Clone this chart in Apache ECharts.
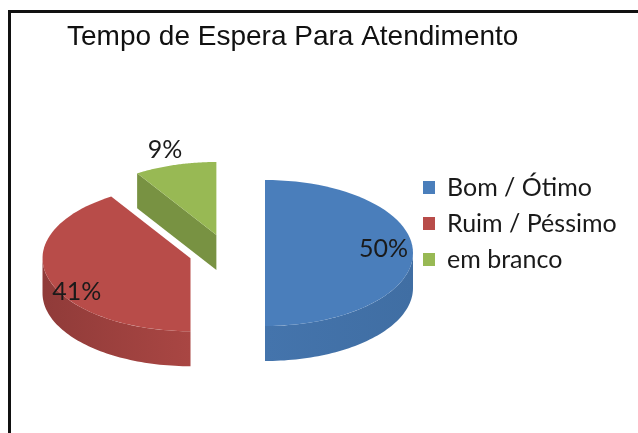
<!DOCTYPE html>
<html>
<head>
<meta charset="utf-8">
<script src="https://cdn.jsdelivr.net/npm/echarts@6/dist/echarts.min.js"></script>
<style>
  html, body { margin: 0; padding: 0; background: #fff; }
  #chart { position: absolute; left: 0; top: 0; width: 638px; height: 433px; }
  #frame { position: absolute; left: 8px; top: 10px; width: 640px; height: 440px;
           border-left: 3px solid #111; border-top: 3px solid #111; }
</style>
</head>
<body>
<div id="chart"></div>
<div id="frame"></div>
<script>
const titleText = "Tempo de Espera Para Atendimento";
const categories = ["Bom / Ótimo", "Ruim / Péssimo", "em branco"];
const values = [50, 41, 9];
const colors = ["#4a7ebb", "#b84c49", "#98b954"];

// 3d pie geometry (pixels)
const CX = 227, CY = 253, RX = 148, RY = 73, DEPTH = 35, EXPLODE = 38;

const total = values.reduce((a, b) => a + b, 0);

function shade(hex, f) {
  const n = parseInt(hex.slice(1), 16);
  const r = Math.round(((n >> 16) & 255) * f);
  const g = Math.round(((n >> 8) & 255) * f);
  const b = Math.round((n & 255) * f);
  return "rgb(" + r + "," + g + "," + b + ")";
}

function angles(i) {
  let before = 0;
  for (let k = 0; k < i; k++) before += values[k];
  const a0 = -Math.PI / 2 + (2 * Math.PI * before) / total;
  const a1 = a0 + (2 * Math.PI * values[i]) / total;
  return [a0, a1];
}

function arc(c, from, to, dy) {
  const pts = [];
  const n = 60;
  for (let s = 0; s <= n; s++) {
    const t = from + ((to - from) * s) / n;
    pts.push([c[0] + RX * Math.cos(t), c[1] + RY * Math.sin(t) + dy]);
  }
  return pts;
}

function renderSlice(params, api) {
  const i = params.seriesIndex;
  const [a0, a1] = angles(i);
  const mid = (a0 + a1) / 2;
  const c = [CX + EXPLODE * Math.cos(mid), CY + EXPLODE * Math.sin(mid) * RY / RX];
  const color = colors[i];
  const children = [];

  // curved front side
  const lo = Math.max(a0, 0), hi = Math.min(a1, Math.PI);
  if (lo < hi) {
    const pts = arc(c, lo, hi, 0).concat(arc(c, hi, lo, DEPTH));
    children.push({
      type: "polygon",
      z2: 1,
      shape: { points: pts },
      style: {
        fill: new echarts.graphic.LinearGradient(c[0] - RX, 0, c[0] + RX, 0, [
          { offset: 0, color: shade(color, 0.78) },
          { offset: 0.5, color: shade(color, 0.92) },
          { offset: 1, color: shade(color, 0.87) }
        ], true)
      }
    });
  }

  // cut faces facing the viewer
  [[a0, -Math.cos(a0)], [a1, Math.cos(a1)]].forEach(([t, facing]) => {
    if (facing > 1e-6) {
      const p = [c[0] + RX * Math.cos(t), c[1] + RY * Math.sin(t)];
      children.push({
        type: "polygon",
        z2: 1,
        shape: { points: [c, p, [p[0], p[1] + DEPTH], [c[0], c[1] + DEPTH]] },
        style: { fill: shade(color, 0.79) }
      });
    }
  });

  // top face
  children.push({
    type: "polygon",
    z2: 2,
    shape: { points: [c].concat(arc(c, a0, a1, 0)) },
    style: { fill: color }
  });

  // percentage label
  const small = values[i] / total < 0.15;
  const r = small ? 1.15 : 0.8;
  children.push({
    type: "text",
    z2: 3,
    x: c[0] + r * RX * Math.cos(mid) - (small ? 4 : 0),
    y: c[1] + r * RY * Math.sin(mid) + (Math.sin(mid) > 0.1 ? DEPTH / 2 : -4),
    style: {
      text: Math.round((values[i] / total) * 100) + "%",
      fill: "#1a1a1a",
      fontFamily: "Lato",
      fontSize: 25,
      align: "center",
      verticalAlign: "middle"
    }
  });

  return { type: "group", children: children };
}

const chart = echarts.init(document.getElementById("chart"));
chart.setOption({
  animation: false,
  color: colors,
  title: {
    text: titleText,
    left: 62,
    top: 18,
    textStyle: { fontFamily: "Liberation Sans", fontSize: 28, fontWeight: "normal", color: "#111" }
  },
  legend: {
    orient: "vertical",
    left: 418,
    top: 170,
    icon: "rect",
    itemWidth: 12,
    itemHeight: 13,
    itemGap: 11,
    data: categories,
    selectedMode: false,
    textStyle: { fontFamily: "Lato", fontSize: 25, color: "#1a1a1a", padding: [0, 0, 0, 7] }
  },
  series: categories.map((name, i) => ({
    type: "custom",
    name: name,
    coordinateSystem: "none",
    renderItem: renderSlice,
    data: [values[i]]
  }))
});
</script>
</body>
</html>
